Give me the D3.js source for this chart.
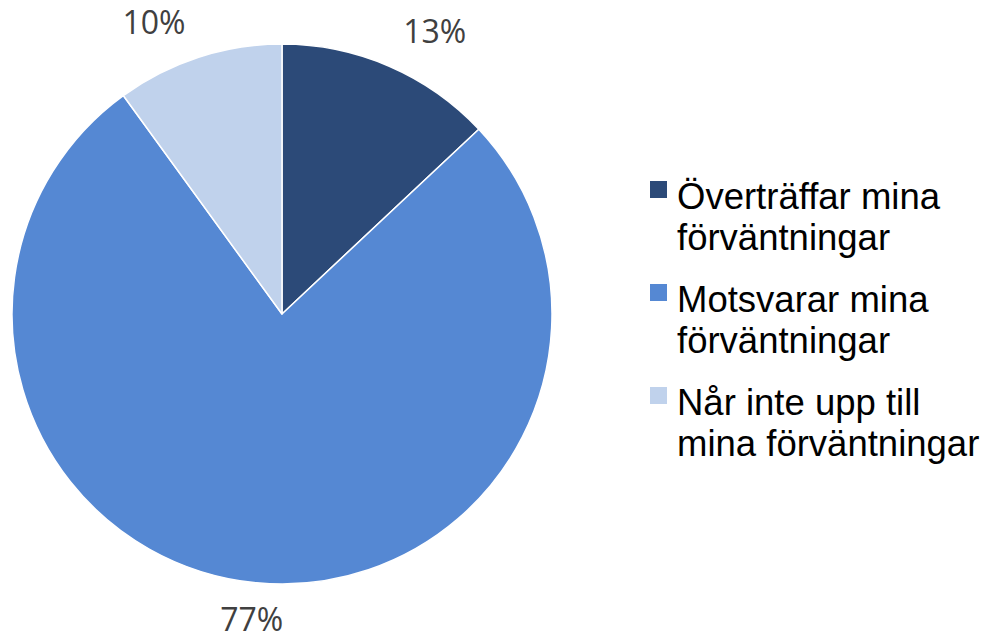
<!DOCTYPE html>
<html>
<head>
<meta charset="utf-8">
<script src="https://cdn.jsdelivr.net/npm/d3@7"></script>
<style>
  html, body { margin: 0; padding: 0; background: #ffffff; }
  svg { display: block; }
</style>
</head>
<body>
<svg id="chart" width="991" height="640"></svg>
<script>
const categories = ["Överträffar mina förväntningar", "Motsvarar mina förväntningar", "Når inte upp till mina förväntningar"];
const legendLines = [["Överträffar mina", "förväntningar"], ["Motsvarar mina", "förväntningar"], ["Når inte upp till", "mina förväntningar"]];
const values = [13, 77, 10];
const labels = ["13%", "77%", "10%"];
const colors = ["#2C4A78", "#5588D3", "#C0D2EC"];

const svg = d3.select("#chart");
const W = 991, H = 640;
const cx = 282, cy = 314, R = 270;

const color = d3.scaleOrdinal().domain(categories).range(colors);
const pie = d3.pie().sort(null).value(d => d.v).startAngle(0).endAngle(2 * Math.PI);
const data = categories.map((c, i) => ({ c, v: values[i], l: labels[i] }));
const arcs = pie(data);
const arc = d3.arc().innerRadius(0).outerRadius(R);

const g = svg.append("g").attr("transform", `translate(${cx},${cy})`);
g.selectAll("path").data(arcs).join("path")
  .attr("d", arc)
  .attr("fill", d => color(d.data.c))
  .attr("stroke", "#ffffff")
  .attr("stroke-width", 1.5)
  .attr("stroke-linejoin", "round");

// data labels, outside end
const labelArc = d3.arc().innerRadius(R + 10).outerRadius(R + 10);
g.selectAll("text.lbl").data(arcs).join("text")
  .attr("class", "lbl")
  .attr("font-family", "'Open Sans', sans-serif")
  .attr("font-size", 32)
  .attr("fill", "#404040")
  .attr("text-anchor", "middle")
  .text(d => d.data.l)
  .each(function(d) {
    const w = this.getComputedTextLength();
    const a = (d.startAngle + d.endAngle) / 2;
    const [ax, ay] = labelArc.centroid(d);
    const s = Math.sin(a), c = -Math.cos(a);
    const sx = Math.abs(s) < 0.2 ? s : Math.sign(s);
    const sy = Math.abs(c) < 0.2 ? c : Math.sign(c);
    const x = ax + sx * (w / 2 + 10);
    let y = ay + sy * 28 + 14;
    y = Math.min(y, H - cy - 9);
    d3.select(this).attr("x", x).attr("y", y);
  });

// legend
const lg = svg.append("g");
const itemTop = 209, itemStep = 103, lineH = 41;
const items = lg.selectAll("g.item").data(categories).join("g")
  .attr("class", "item")
  .attr("transform", (d, i) => `translate(650,${itemTop + i * itemStep})`);
items.append("rect")
  .attr("x", 0).attr("y", -28).attr("width", 17).attr("height", 17)
  .attr("fill", d => color(d));
items.append("text")
  .attr("font-family", "'Liberation Sans', Arial, sans-serif")
  .attr("font-size", 36.5)
  .attr("fill", "#000000")
  .selectAll("tspan").data((d, i) => legendLines[i]).join("tspan")
  .attr("x", 27)
  .attr("y", (d, j) => j * lineH)
  .text(d => d);
</script>
</body>
</html>
